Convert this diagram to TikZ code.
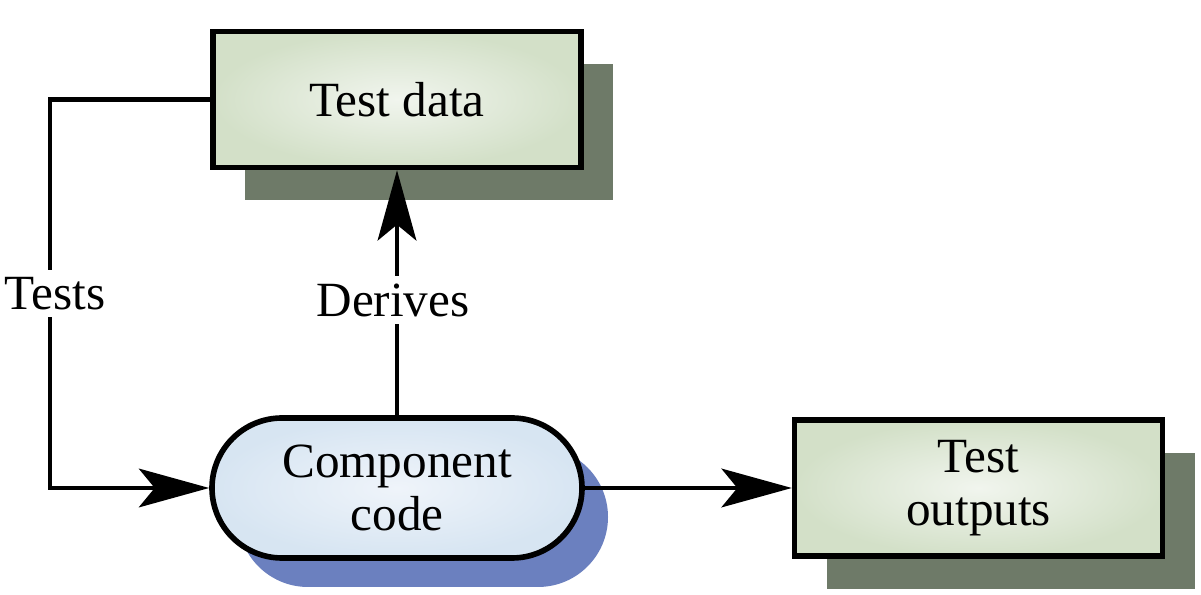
\documentclass[tikz,border=0pt]{standalone}
\usepackage{fontspec}
\setmainfont{Liberation Serif}
\usetikzlibrary{arrows.meta,positioning,shadows}

\definecolor{boxgreen}{HTML}{D3E0C8}
\definecolor{boxgreenlight}{HTML}{F1F5EE}
\definecolor{shadowgreen}{HTML}{6E7A68}
\definecolor{boxblue}{HTML}{D7E5F2}
\definecolor{boxbluelight}{HTML}{EFF4FA}
\definecolor{shadowblue}{HTML}{6B80BF}

\begin{document}
\begin{tikzpicture}[>={Stealth[length=20pt,width=11pt,inset=4.5pt]},
  line width=1.25pt,
  every node/.style={font=\fontsize{14}{15}\selectfont},
  databox/.style={draw,line width=1.6pt,minimum width=3.68cm,minimum height=1.36cm,
    align=center,shading=radial,inner color=boxgreenlight,outer color=boxgreen,
    drop shadow={shadow xshift=0.32cm,shadow yshift=-0.33cm,fill=shadowgreen,opacity=1}},
  codebox/.style={draw,rounded corners=0.7cm,line width=1.6pt,minimum width=3.7cm,minimum height=1.4cm,
    align=center,shading=radial,inner color=boxbluelight,outer color=boxblue,
    drop shadow={shadow xshift=0.26cm,shadow yshift=-0.29cm,fill=shadowblue,opacity=1}},
  edgelabel/.style={fill=white,inner sep=2pt}]
\useasboundingbox (0,0) rectangle (12.01,5.95);
\node (code) [codebox] at (3.97,1.07) {Component\\code};
\node (data) [databox, above=2.45cm of code] {Test data};
\node (outputs) [databox, right=2.07cm of code] {Test\\outputs};
% connectors
\draw[->] (data.west) -- ++(-1.6,0) |- node[edgelabel,pos=0.25,xshift=0.05cm] {Tests} (code.west);
\draw[->] (code) -- node[edgelabel,pos=0.47,xshift=-0.04cm] {Derives} (data);
\draw[->] (code) -- (outputs);
\end{tikzpicture}
\end{document}
